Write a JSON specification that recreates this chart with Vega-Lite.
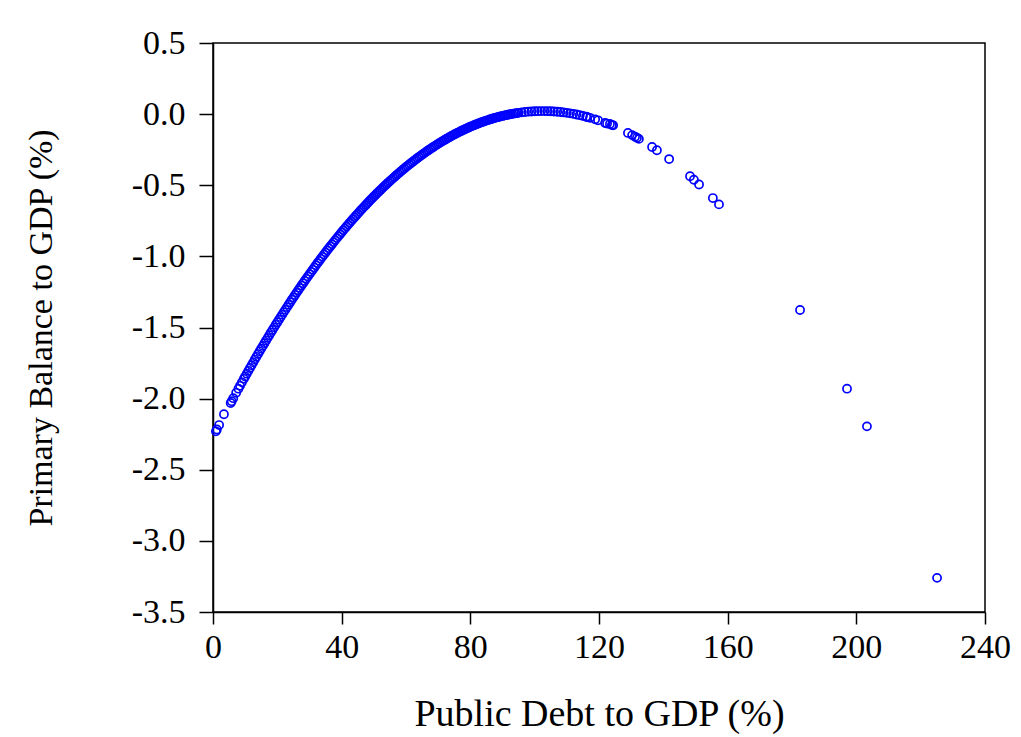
{
  "$schema": "https://vega.github.io/schema/vega-lite/v6.json",
  "width": 772,
  "height": 569,
  "autosize": {"type": "none"},
  "padding": {"left": 213, "top": 43, "right": 36, "bottom": 125},
  "background": "white",
  "config": {
    "view": {"stroke": "black", "strokeWidth": 1.5},
    "font": "Liberation Serif"
  },
  "data": {"values": [
    {"x":0.9,"y":-2.2299},{"x":1.2,"y":-2.2167},{"x":1.9,"y":-2.1858},{"x":3.4,"y":-2.11},
    {"x":5.5,"y":-2.0306},{"x":5.8,"y":-2.018},{"x":6.3,"y":-1.9969},{"x":7.2,"y":-1.9593},
    {"x":7.9,"y":-1.9303},{"x":8.4,"y":-1.9098},{"x":9.0,"y":-1.8852},{"x":9.6,"y":-1.8608},
    {"x":10,"y":-1.8446},{"x":10.5,"y":-1.8246},{"x":11,"y":-1.8045},{"x":11.5,"y":-1.7847},
    {"x":12,"y":-1.7648},{"x":12.5,"y":-1.7452},{"x":13,"y":-1.7255},{"x":13.5,"y":-1.7061},
    {"x":14,"y":-1.6867},{"x":14.5,"y":-1.6675},{"x":15,"y":-1.6483},{"x":15.5,"y":-1.6293},
    {"x":16,"y":-1.6103},{"x":16.5,"y":-1.5916},{"x":17,"y":-1.5728},{"x":17.5,"y":-1.5543},
    {"x":18,"y":-1.5357},{"x":18.5,"y":-1.5174},{"x":19,"y":-1.4991},{"x":19.5,"y":-1.481},
    {"x":20,"y":-1.4629},{"x":20.5,"y":-1.445},{"x":21,"y":-1.4271},{"x":21.5,"y":-1.4095},
    {"x":22,"y":-1.3918},{"x":22.5,"y":-1.3744},{"x":23,"y":-1.3569},{"x":23.5,"y":-1.3397},
    {"x":24,"y":-1.3224},{"x":24.5,"y":-1.3054},{"x":25,"y":-1.2884},{"x":25.5,"y":-1.2716},
    {"x":26,"y":-1.2548},{"x":26.5,"y":-1.2382},{"x":27,"y":-1.2216},{"x":27.5,"y":-1.2053},
    {"x":28,"y":-1.1889},{"x":28.5,"y":-1.1728},{"x":29,"y":-1.1566},{"x":29.5,"y":-1.1407},
    {"x":30,"y":-1.1248},{"x":30.5,"y":-1.1091},{"x":31,"y":-1.0934},{"x":31.5,"y":-1.0779},
    {"x":32,"y":-1.0624},{"x":32.5,"y":-1.0472},{"x":33,"y":-1.0319},{"x":33.5,"y":-1.0169},
    {"x":34,"y":-1.0018},{"x":34.5,"y":-0.987},{"x":35,"y":-0.9721},{"x":35.5,"y":-0.9575},
    {"x":36,"y":-0.9429},{"x":36.5,"y":-0.9285},{"x":37,"y":-0.9141},{"x":37.5,"y":-0.8999},
    {"x":38,"y":-0.8857},{"x":38.5,"y":-0.8718},{"x":39,"y":-0.8578},{"x":39.5,"y":-0.8441},
    {"x":40,"y":-0.8303},{"x":40.5,"y":-0.8168},{"x":41,"y":-0.8033},{"x":41.5,"y":-0.79},
    {"x":42,"y":-0.7767},{"x":42.5,"y":-0.7636},{"x":43,"y":-0.7505},{"x":43.5,"y":-0.7377},
    {"x":44,"y":-0.7248},{"x":44.5,"y":-0.7122},{"x":45,"y":-0.6995},{"x":45.5,"y":-0.6871},
    {"x":46,"y":-0.6746},{"x":46.5,"y":-0.6624},{"x":47,"y":-0.6502},{"x":47.5,"y":-0.6382},
    {"x":48,"y":-0.6262},{"x":48.5,"y":-0.6144},{"x":49,"y":-0.6026},{"x":49.5,"y":-0.5911},
    {"x":50,"y":-0.5795},{"x":50.5,"y":-0.5682},{"x":51,"y":-0.5568},{"x":51.5,"y":-0.5457},
    {"x":52,"y":-0.5346},{"x":52.5,"y":-0.5237},{"x":53,"y":-0.5128},{"x":53.5,"y":-0.5021},
    {"x":54,"y":-0.4914},{"x":54.5,"y":-0.481},{"x":55,"y":-0.4705},{"x":55.5,"y":-0.4603},
    {"x":56,"y":-0.45},{"x":56.5,"y":-0.44},{"x":57,"y":-0.4299},{"x":57.5,"y":-0.4201},
    {"x":58,"y":-0.4103},{"x":58.5,"y":-0.4007},{"x":59,"y":-0.3911},{"x":59.5,"y":-0.3817},
    {"x":60,"y":-0.3723},{"x":60.5,"y":-0.3632},{"x":61,"y":-0.354},{"x":61.5,"y":-0.3451},
    {"x":62,"y":-0.3361},{"x":62.5,"y":-0.3274},{"x":63,"y":-0.3187},{"x":63.5,"y":-0.3102},
    {"x":64,"y":-0.3017},{"x":64.5,"y":-0.2934},{"x":65,"y":-0.2851},{"x":65.5,"y":-0.2771},
    {"x":66,"y":-0.269},{"x":66.5,"y":-0.2612},{"x":67,"y":-0.2533},{"x":67.5,"y":-0.2457},
    {"x":68,"y":-0.238},{"x":68.5,"y":-0.2306},{"x":69,"y":-0.2232},{"x":69.5,"y":-0.216},
    {"x":70,"y":-0.2088},{"x":70.5,"y":-0.2018},{"x":71,"y":-0.1948},{"x":71.5,"y":-0.1881},
    {"x":72,"y":-0.1813},{"x":72.5,"y":-0.1748},{"x":73,"y":-0.1682},{"x":73.5,"y":-0.1619},
    {"x":74,"y":-0.1556},{"x":74.5,"y":-0.1495},{"x":75,"y":-0.1434},{"x":75.5,"y":-0.1375},
    {"x":76,"y":-0.1316},{"x":76.5,"y":-0.126},{"x":77,"y":-0.1203},{"x":77.5,"y":-0.1149},
    {"x":78,"y":-0.1094},{"x":78.5,"y":-0.1042},{"x":79,"y":-0.0989},{"x":79.5,"y":-0.0939},
    {"x":80,"y":-0.0889},{"x":80.5,"y":-0.0841},{"x":81,"y":-0.0793},{"x":81.5,"y":-0.0747},
    {"x":82,"y":-0.0701},{"x":82.5,"y":-0.0658},{"x":83,"y":-0.0614},{"x":83.5,"y":-0.0573},
    {"x":84,"y":-0.0531},{"x":84.5,"y":-0.0492},{"x":85,"y":-0.0453},{"x":85.5,"y":-0.0416},
    {"x":86,"y":-0.0379},{"x":86.5,"y":-0.0344},{"x":87,"y":-0.0309},{"x":87.5,"y":-0.0277},
    {"x":88,"y":-0.0244},{"x":88.5,"y":-0.0214},{"x":89,"y":-0.0183},{"x":89.5,"y":-0.0155},
    {"x":90,"y":-0.0126},{"x":90.5,"y":-0.01},{"x":91,"y":-0.0074},{"x":91.5,"y":-0.005},
    {"x":92,"y":-0.0026},{"x":92.5,"y":-0.0004},{"x":93,"y":0.0018},{"x":93.5,"y":0.0038},
    {"x":94,"y":0.0057},{"x":94.5,"y":0.0075},{"x":95,"y":0.0092},
    {"x":96,"y":0.0122},{"x":97,"y":0.0148},{"x":98,"y":0.017},{"x":99,"y":0.0187},
    {"x":100,"y":0.02},{"x":101,"y":0.0209},{"x":102,"y":0.0213},{"x":103,"y":0.0213},
    {"x":104,"y":0.0208},{"x":105,"y":0.02},{"x":106,"y":0.0186},{"x":107,"y":0.0169},
    {"x":108,"y":0.0147},{"x":109,"y":0.0121},{"x":110,"y":0.009},{"x":111,"y":0.0055},
    {"x":112,"y":0.0016},{"x":113,"y":-0.0028},{"x":114,"y":-0.0076},{"x":115,"y":-0.0129},
    {"x":116,"y":-0.0186},{"x":116.3,"y":-0.0203},{"x":117.2,"y":-0.026},{"x":118.8,"y":-0.0368},
    {"x":119.7,"y":-0.0434},{"x":121.9,"y":-0.0624},{"x":122.5,"y":-0.0662},{"x":123.4,"y":-0.0695},
    {"x":124.0,"y":-0.0765},{"x":124.4,"y":-0.0785},
    {"x":129.0,"y":-0.1322},{"x":130.3,"y":-0.1476},{"x":131.2,"y":-0.1587},{"x":131.8,"y":-0.1663},
    {"x":132.4,"y":-0.1741},{"x":136.5,"y":-0.2313},{"x":138.0,"y":-0.254},{"x":141.8,"y":-0.3161},
    {"x":148.3,"y":-0.4369},{"x":149.5,"y":-0.4612},{"x":151.1,"y":-0.4946},{"x":155.4,"y":-0.5899},
    {"x":157.3,"y":-0.6345},{"x":182.5,"y":-1.377},{"x":197.1,"y":-1.93},{"x":203.3,"y":-2.195},
    {"x":225.1,"y":-3.26}
  ]},
  "mark": {"type": "point", "filled": false, "color": "#0000FF", "size": 66, "strokeWidth": 1.7, "opacity": 1},
  "encoding": {
    "x": {
      "field": "x", "type": "quantitative",
      "scale": {"domain": [0, 240], "nice": false, "zero": false},
      "axis": {
        "title": "Public Debt to GDP (%)",
        "values": [0, 40, 80, 120, 160, 200, 240],
        "grid": false,
        "domainColor": "black", "domainWidth": 1.5,
        "tickColor": "black", "tickWidth": 1.5, "tickSize": 12,
        "labelFont": "Liberation Serif", "labelFontSize": 34, "labelColor": "black",
        "labelPadding": 6, "labelFlush": false, "labelOverlap": false,
        "titleFont": "Liberation Serif", "titleFontSize": 38, "titleFontWeight": "normal",
        "titleColor": "black", "titlePadding": 31
      }
    },
    "y": {
      "field": "y", "type": "quantitative",
      "scale": {"domain": [-3.5, 0.5], "nice": false, "zero": false},
      "axis": {
        "title": "Primary Balance to GDP (%)",
        "values": [-3.5, -3, -2.5, -2, -1.5, -1, -0.5, 0, 0.5],
        "labelExpr": "replace(format(datum.value, '.1f'), '\u2212', '-')",
        "grid": false,
        "domainColor": "black", "domainWidth": 1.5,
        "tickColor": "black", "tickWidth": 1.5, "tickSize": 14,
        "labelFont": "Liberation Serif", "labelFontSize": 34, "labelColor": "black",
        "labelPadding": 14, "labelFlush": false, "labelOverlap": false,
        "titleFont": "Liberation Serif", "titleFontSize": 34, "titleFontWeight": "normal",
        "titleColor": "black", "titlePadding": 73
      }
    }
  }
}
